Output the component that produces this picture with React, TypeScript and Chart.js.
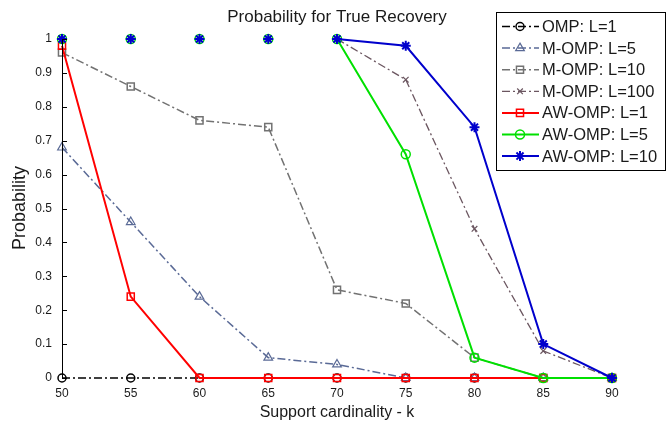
import React, { useEffect, useRef } from 'react';
import { Chart, registerables } from 'chart.js';
import { drawPoint } from 'chart.js/helpers';

Chart.register(...registerables);

const kValues = [50, 55, 60, 65, 70, 75, 80, 85, 90];
const yTickValues = [0, 0.1, 0.2, 0.3, 0.4, 0.5, 0.6, 0.7, 0.8, 0.9, 1];
const yTickLabels = ['0', '0.1', '0.2', '0.3', '0.4', '0.5', '0.6', '0.7', '0.8', '0.9', '1'];

const seriesNames = [
  'OMP: L=1',
  'M-OMP: L=5',
  'M-OMP: L=10',
  'M-OMP: L=100',
  'AW-OMP: L=1',
  'AW-OMP: L=5',
  'AW-OMP: L=10',
];

const ompL1 = [0, 0, 0, 0, 0, 0, 0, 0, 0];
const mompL5 = [0.68, 0.46, 0.24, 0.06, 0.04, 0, 0, 0, 0];
const mompL10 = [0.96, 0.86, 0.76, 0.74, 0.26, 0.22, 0.06, 0, 0];
const mompL100 = [1, 1, 1, 1, 1, 0.88, 0.44, 0.08, 0];
const awompL1 = [0.98, 0.24, 0, 0, 0, 0, 0, 0, 0];
const awompL5 = [1, 1, 1, 1, 1, 0.66, 0.06, 0, 0];
const awompL10 = [1, 1, 1, 1, 1, 0.98, 0.74, 0.1, 0];

const seriesValues = [ompL1, mompL5, mompL10, mompL100, awompL1, awompL5, awompL10];

const DASHDOT = [8, 3, 2, 3];
const styles = [
  { color: '#000000', dash: DASHDOT, width: 1.5, point: 'circle', radius: 4, pw: 1.5 },
  { color: '#5a6a96', dash: DASHDOT, width: 1.5, point: 'triangle', radius: 5, pw: 1.2 },
  { color: '#727272', dash: DASHDOT, width: 1.5, point: 'rect', radius: 5, pw: 1.5 },
  { color: '#6b5660', dash: DASHDOT, width: 1.3, point: 'crossRot', radius: 4, pw: 1.2 },
  { color: '#ff0000', dash: [], width: 2, point: 'rect', radius: 5, pw: 1.5 },
  { color: '#00e000', dash: [], width: 2, point: 'circle', radius: 4.5, pw: 1.5 },
  { color: '#0000cc', dash: [], width: 2, point: 'star', radius: 5, pw: 2 },
];

const FONT = "'Liberation Sans', Arial, sans-serif";
const TEXT = '#1a1a1a';

const overlayPlugin = {
  id: 'overlay',
  afterDraw(chart: any) {
    const { ctx, chartArea } = chart;
    const yScale = chart.scales.y;
    ctx.save();
    // axis line and ticks
    ctx.strokeStyle = '#000';
    ctx.lineWidth = 1;
    ctx.setLineDash([]);
    ctx.beginPath();
    ctx.moveTo(chartArea.left + 0.5, chartArea.top);
    ctx.lineTo(chartArea.left + 0.5, chartArea.bottom);
    for (const v of yTickValues) {
      const y = Math.round(yScale.getPixelForValue(v)) + 0.5;
      ctx.moveTo(chartArea.left, y);
      ctx.lineTo(chartArea.left + 5, y);
    }
    ctx.stroke();

    // titles
    ctx.fillStyle = TEXT;
    ctx.textAlign = 'center';
    ctx.textBaseline = 'middle';
    const cx = (chartArea.left + chartArea.right) / 2;
    ctx.font = `17px ${FONT}`;
    ctx.fillText('Probability for True Recovery', cx, 17);
    ctx.font = `16px ${FONT}`;
    ctx.fillText('Support cardinality - k', cx, 413);
    ctx.save();
    ctx.translate(20, 208);
    ctx.rotate(-Math.PI / 2);
    ctx.font = `18px ${FONT}`;
    ctx.fillText('Probability', 0, 0);
    ctx.restore();

    // legend
    const bx = 496, by = 12, bw = 169, bh = 158;
    ctx.fillStyle = '#ffffff';
    ctx.fillRect(bx, by, bw, bh);
    ctx.strokeStyle = '#000';
    ctx.lineWidth = 1;
    ctx.strokeRect(bx + 0.5, by + 0.5, bw, bh);
    ctx.font = `16.5px ${FONT}`;
    ctx.textAlign = 'left';
    seriesNames.forEach((name, i) => {
      const s = styles[i];
      const y = 26.5 + i * 21.6;
      ctx.strokeStyle = s.color;
      ctx.lineWidth = s.width;
      ctx.setLineDash(s.dash);
      ctx.beginPath();
      ctx.moveTo(502, y);
      ctx.lineTo(539, y);
      ctx.stroke();
      ctx.setLineDash([]);
      ctx.lineWidth = s.pw;
      ctx.fillStyle = 'rgba(0,0,0,0)';
      drawPoint(ctx, { pointStyle: s.point, radius: s.radius, rotation: 0, borderWidth: s.pw }, 520, y);
      ctx.fillStyle = TEXT;
      ctx.fillText(name, 542, y + 1);
    });
    ctx.restore();
  },
};

export default function App() {
  const ref = useRef<HTMLCanvasElement | null>(null);
  useEffect(() => {
    document.body.style.margin = '0';
    const canvas = ref.current;
    if (!canvas) return;
    const datasets = seriesValues.map((vals, i) => {
      const s = styles[i];
      return {
        label: seriesNames[i],
        data: vals.map((v, j) => ({ x: kValues[j], y: v })),
        borderColor: s.color,
        borderWidth: s.width,
        borderDash: s.dash,
        pointStyle: s.point,
        pointRadius: s.radius,
        pointBorderWidth: s.pw,
        pointBorderColor: s.color,
        pointBackgroundColor: 'rgba(0,0,0,0)',
        pointHoverRadius: s.radius,
        tension: 0,
        fill: false,
        clip: false,
        order: 10 - i,
        segment: {
          borderColor: (c: any) =>
            c.p0.parsed.y >= 1 && c.p1.parsed.y >= 1 ? 'rgba(0,0,0,0)' : s.color,
        },
      };
    });
    const chart = new Chart(canvas, {
      type: 'line',
      data: { datasets },
      options: {
        animation: false,
        responsive: false,
        devicePixelRatio: 1,
        layout: { padding: { top: 39, right: 54, left: 0, bottom: 0 } },
        plugins: { legend: { display: false }, title: { display: false }, tooltip: { enabled: false } },
        scales: {
          x: {
            type: 'linear',
            min: 50,
            max: 90,
            afterFit: (scale: any) => {
              scale.height = 46;
            },
            afterBuildTicks: (scale: any) => {
              scale.ticks = kValues.map((v) => ({ value: v }));
            },
            grid: { display: false, drawTicks: false },
            border: { display: false },
            ticks: {
              padding: 8,
              color: TEXT,
              font: { family: FONT, size: 12 },
              maxRotation: 0,
              callback: (v: any) => String(v),
            },
          },
          y: {
            type: 'linear',
            min: 0,
            max: 1,
            afterFit: (scale: any) => {
              scale.width = 62;
            },
            afterBuildTicks: (scale: any) => {
              scale.ticks = yTickValues.map((v) => ({ value: v }));
            },
            grid: { display: false, drawTicks: false },
            border: { display: false },
            ticks: {
              padding: 10,
              color: TEXT,
              font: { family: FONT, size: 12 },
              callback: (v: any) => {
                const idx = yTickValues.findIndex((t) => Math.abs(t - v) < 1e-9);
                return idx >= 0 ? yTickLabels[idx] : '';
              },
            },
          },
        },
      },
      plugins: [overlayPlugin],
    });
    return () => chart.destroy();
  }, []);
  return (
    <div style={{ position: 'absolute', left: 0, top: 0, width: 666, height: 424 }}>
      <canvas ref={ref} width={666} height={424} />
    </div>
  );
}
